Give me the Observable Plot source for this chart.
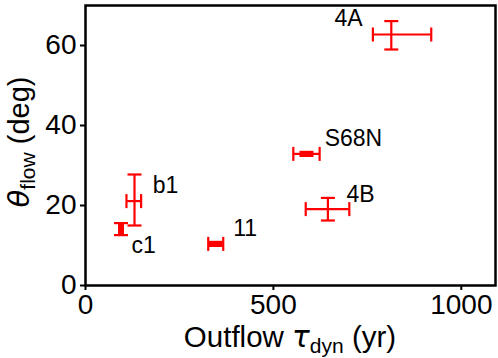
<!DOCTYPE html>
<html>
<head>
<meta charset="utf-8">
<script src="https://cdn.jsdelivr.net/npm/d3@7"></script>
<script src="https://cdn.jsdelivr.net/npm/@observablehq/plot@0.6"></script>
<style>
  html, body { margin: 0; padding: 0; background: #fff; }
  #chart svg { display: block; }
</style>
</head>
<body>
<div id="chart"></div>
<script>
// ---- data ----
const names  = ["4A", "S68N", "4B", "b1", "c1", "11"];
const tau    = [813.7, 588, 645, 130.4, 94.5, 346.5];     // yr
const tauLo  = [764.7, 553, 586, 109, 89.5, 326.6];
const tauHi  = [920, 623, 702, 148, 99.5, 366.5];
const theta  = [62.75, 32.9, 19.1, 21.1, 14.1, 10.4];     // deg
const thLo   = [59.0, 32.4, 16.25, 15.0, 12.6, 9.9];
const thHi   = [66.1, 33.4, 21.9, 27.75, 15.6, 10.9];
const labelX = [700, 713, 732, 213, 155, 425];
const labelY = [66.75, 36.7, 22.7, 25, 10, 14.2];
const xTicks = [0, 500, 1000];
const yTicks = [0, 20, 40, 60];

const rows = names.map((n, i) => ({
  name: n, x: tau[i], xlo: tauLo[i], xhi: tauHi[i],
  y: theta[i], ylo: thLo[i], yhi: thHi[i], lx: labelX[i], ly: labelY[i]
}));

const vCap = {draw(ctx, size) { const r = Math.sqrt(size / Math.PI); ctx.moveTo(0, -r); ctx.lineTo(0, r); }};
const hCap = {draw(ctx, size) { const r = Math.sqrt(size / Math.PI); ctx.moveTo(-r, 0); ctx.lineTo(r, 0); }};

const W = 498, H = 358, ML = 85, MR = 3, MT = 5, MB = 73;
const red = "#ff0000", sw = 2.2;
const font = "'Liberation Sans', Arial, sans-serif";

const chart = Plot.plot({
  width: W, height: H,
  marginLeft: ML, marginRight: MR, marginTop: MT, marginBottom: MB,
  style: {fontFamily: font, fontSize: "28px", color: "#000", background: "#fff"},
  x: {domain: [0, 1091]},
  y: {domain: [0, 70]},
  marks: [
    Plot.axisX({ticks: xTicks, tickFormat: d3.format("d"), tickSize: 5, tickPadding: 4, label: null, strokeWidth: 2, fontSize: 28}),
    Plot.axisY({ticks: yTicks, tickFormat: d3.format("d"), tickSize: 5, tickPadding: 4, label: null, strokeWidth: 2, fontSize: 28}),
    Plot.ruleY(rows, {y: "y", x1: "xlo", x2: "xhi", stroke: red, strokeWidth: sw}),
    Plot.ruleX(rows, {x: "x", y1: "ylo", y2: "yhi", stroke: red, strokeWidth: sw}),
    Plot.dot(rows, {x: "xlo", y: "y", symbol: vCap, r: 7, stroke: red, strokeWidth: sw, fill: "none"}),
    Plot.dot(rows, {x: "xhi", y: "y", symbol: vCap, r: 7, stroke: red, strokeWidth: sw, fill: "none"}),
    Plot.dot(rows, {x: "x", y: "ylo", symbol: hCap, r: 7, stroke: red, strokeWidth: sw, fill: "none"}),
    Plot.dot(rows, {x: "x", y: "yhi", symbol: hCap, r: 7, stroke: red, strokeWidth: sw, fill: "none"}),
    Plot.text(rows, {x: "lx", y: "ly", text: "name", fontSize: 23, fill: "#000"}),
    Plot.frame({stroke: "#000", strokeWidth: 2.5})
  ]
});

const svg = d3.select(chart);
// x-axis title
const xt = svg.append("text")
  .attr("x", (ML + W - MR) / 2).attr("y", 347)
  .attr("text-anchor", "middle").attr("font-size", 29.5).attr("fill", "#000");
xt.append("tspan").text("Outflow ");
xt.append("tspan").attr("font-style", "italic").attr("font-family", "'DejaVu Sans', sans-serif").text("τ");
xt.append("tspan").attr("font-size", 21).attr("dy", 6).text("dyn");
xt.append("tspan").attr("dy", -6).text(" (yr)");
// y-axis title
const yt = svg.append("text")
  .attr("transform", `translate(29,${(MT + H - MB) / 2 - 3}) rotate(-90)`)
  .attr("text-anchor", "middle").attr("font-size", 29).attr("fill", "#000");
yt.append("tspan").attr("font-style", "italic").attr("font-family", "'DejaVu Sans', sans-serif").text("θ");
yt.append("tspan").attr("font-size", 21).attr("dy", 6).text("flow");
yt.append("tspan").attr("dy", -6).text(" (deg)");

document.getElementById("chart").appendChild(chart);
</script>
</body>
</html>
